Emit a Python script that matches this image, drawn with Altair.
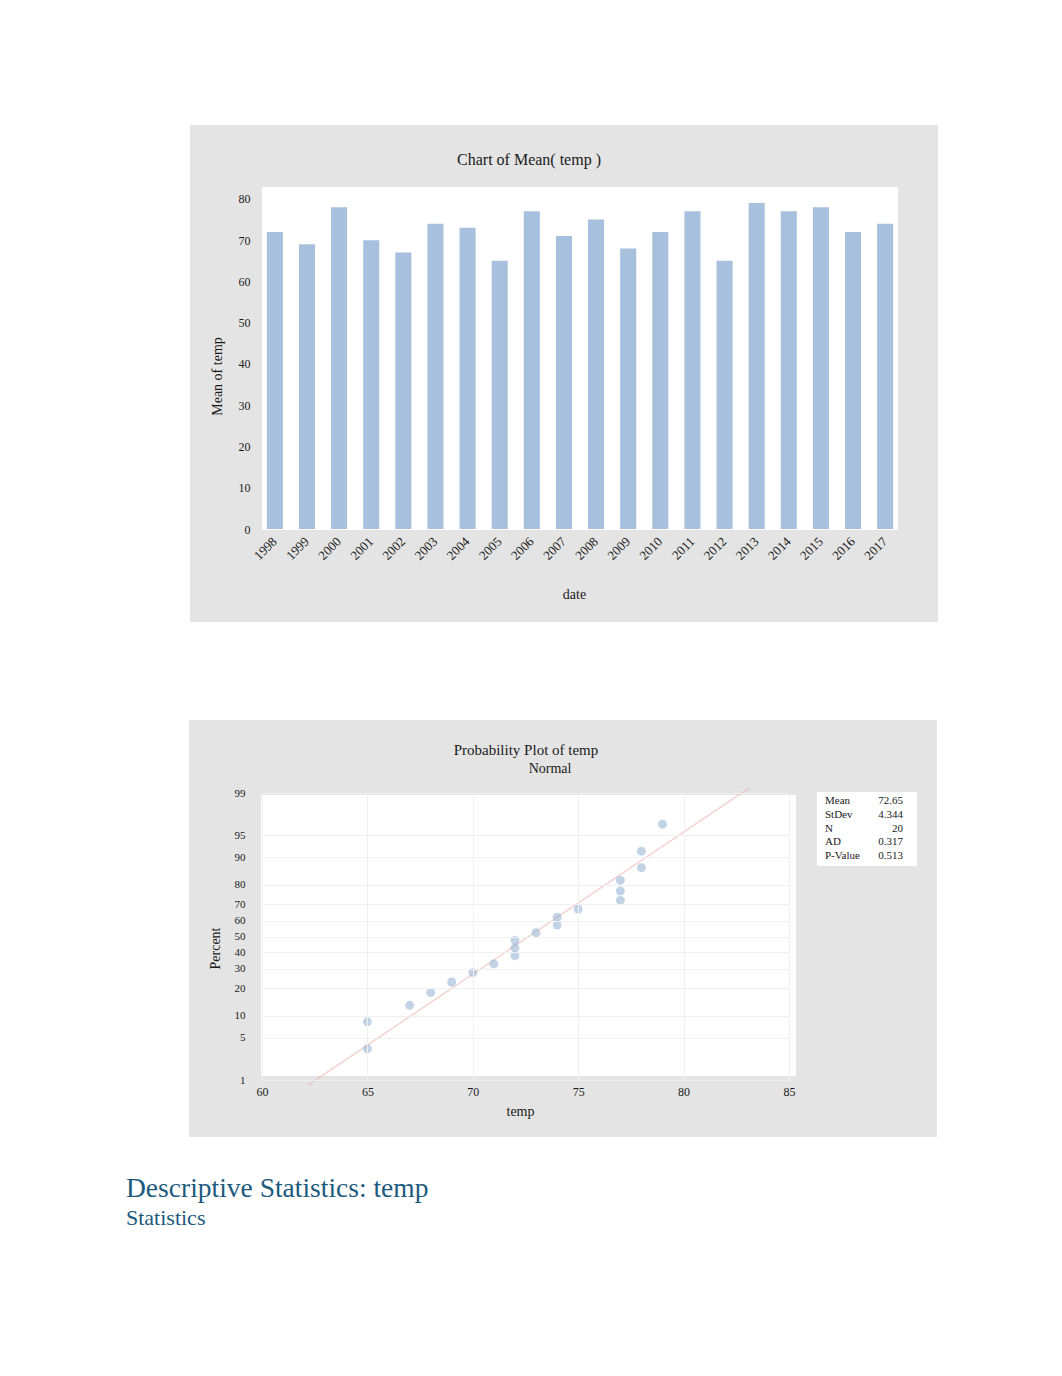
import altair as alt
import pandas as pd
from statistics import NormalDist, mean, stdev

# ---------------- data ----------------
years = [str(y) for y in range(1998, 2018)]
temps = [72, 69, 78, 70, 67, 74, 73, 65, 77, 71, 75, 68, 72, 77, 65, 79, 77, 78, 72, 74]
bar_ticks = [0, 10, 20, 30, 40, 50, 60, 70, 80]
pct_ticks = [1, 5, 10, 20, 30, 40, 50, 60, 70, 80, 90, 95, 99]
temp_ticks = [60, 65, 70, 75, 80, 85]
stat_labels = ["Mean", "StDev", "N", "AD", "P-Value"]
stat_values = ["72.65", "4.344", "20", "0.317", "0.513"]

FONT = "Liberation Serif"
TXT = "#1a1a1a"
PANEL = "#e4e4e4"

one = pd.DataFrame({"k": [0]})

def rect(x, x2, y, y2, color):
    return alt.Chart(one).mark_rect(color=color).encode(
        x=alt.value(x), x2=alt.value(x2), y=alt.value(y), y2=alt.value(y2))

def label(text, x, y, size, align="center", color=TXT):
    return alt.Chart(one).mark_text(text=text, font=FONT, fontSize=size, align=align,
                                    baseline="middle", color=color).encode(
        x=alt.value(x), y=alt.value(y))

AX = dict(labelFont=FONT, titleFont=FONT, labelColor=TXT,
          titleColor=TXT, titleFontWeight="normal", titleFontSize=14,
          ticks=False, domain=False, zindex=1, labelOverlap=False, labelFlush=False)

# ---------------- chart 1: bar chart ----------------
W1, H1 = 636, 342
bars_df = pd.DataFrame({"date": years, "temp": temps})

bars = alt.Chart(bars_df).mark_bar(color="#a7c0de").encode(
    x=alt.X("date:N", sort=years,
            scale=alt.Scale(paddingInner=0.5, paddingOuter=0.15),
            axis=alt.Axis(title="date", labelAngle=315, labelPadding=10,
                          labelFontSize=13, labelAlign="right", labelBaseline="middle",
                          titleX=312, titleY=65, titleBaseline="middle", **AX)),
    y=alt.Y("temp:Q", scale=alt.Scale(domain=[0, 82.9], nice=False),
            axis=alt.Axis(values=bar_ticks, title="Mean of temp", labelPadding=12,
                          labelFontSize=12,
                          titleX=-45, titleY=189, titleAngle=270,
                          titleAlign="center", titleBaseline="middle", grid=False, **AX)),
)

chart1 = alt.layer(
    rect(-254, 784, -179, 1173, "white"),       # page background
    rect(-72, 676, -62, 435, PANEL),           # grey panel
    rect(0, W1, 0, H1 + 1, "white"),           # plot area
    bars,
    label("Chart of Mean( temp )", 267, -27, 16),
).properties(width=W1, height=H1)

# ---------------- chart 2: probability plot ----------------
W2, H2 = 527, 287
nd = NormalDist()
z_ticks = [nd.inv_cdf(p / 100) for p in pct_ticks]
zmax = z_ticks[-1]
m, s = mean(temps), stdev(temps)

xscale = alt.Scale(domain=[60, 85], nice=False, zero=False)
yscale = alt.Scale(domain=[-zmax, zmax], nice=False, zero=False)

xaxis = alt.Axis(values=temp_ticks, title="temp", grid=True, gridColor="#f0f0f0",
                 labelFontSize=12, labelPadding=6, titleX=258, titleY=31,
                 titleBaseline="middle", **AX)
yaxis = alt.Axis(values=z_ticks, title="Percent", grid=True, gridColor="#f0f0f0",
                 labelExpr="format(cumulativeNormal(datum.value) * 100, '.0f')",
                 labelFontSize=11, labelPadding=17, titleX=-47, titleY=155, titleAngle=270,
                 titleAlign="center", titleBaseline="middle", **AX)

prob_df = pd.DataFrame({"temp": temps})
points = alt.Chart(prob_df).transform_window(
    rank="row_number()", sort=[alt.SortField("temp")]
).transform_joinaggregate(
    n="count()"
).transform_calculate(
    z="quantileNormal((datum.rank - 0.3) / (datum.n + 0.4))"
).mark_circle(size=80, color="#9ab6d6", opacity=0.6).encode(
    x=alt.X("temp:Q", scale=xscale, axis=xaxis),
    y=alt.Y("z:Q", scale=yscale, axis=yaxis),
)

fit_pct = [0.8, 99.2]
fit_df = pd.DataFrame({"temp": [m + s * nd.inv_cdf(p / 100) for p in fit_pct]})
fit = alt.Chart(fit_df).transform_calculate(
    z=f"(datum.temp - {m}) / {s}"
).mark_line(color="#eab5ae", strokeWidth=1.5, opacity=0.6).encode(
    x=alt.X("temp:Q", scale=xscale, axis=xaxis),
    y=alt.Y("z:Q", scale=yscale, axis=yaxis),
)

stats_df = pd.DataFrame({"label": stat_labels, "value": stat_values,
                         "row": list(range(len(stat_labels)))})
stats_base = alt.Chart(stats_df).transform_calculate(ypix="datum.row * 13.8 + 8")
stats_lab = stats_base.mark_text(font=FONT, fontSize=11, align="left",
                                 baseline="middle", color=TXT).encode(
    x=alt.value(563), y=alt.Y("ypix:Q", scale=None), text="label:N")
stats_val = stats_base.mark_text(font=FONT, fontSize=11, align="right",
                                 baseline="middle", color=TXT).encode(
    x=alt.value(641), y=alt.Y("ypix:Q", scale=None), text="value:N")

chart2 = alt.layer(
    rect(-73, 675, -73, 344, PANEL),           # grey panel
    rect(555, 655, -1, 73, "white"),           # stats box
    rect(-1, 534, 2, 283, "white"),            # plot area
    fit,
    points,
    stats_lab,
    stats_val,
    label("Probability Plot of temp", 264, -43, 15),
    label("Normal", 288, -24, 14),
    label("Descriptive Statistics: temp", -136, 396, 27.5, align="left", color="#1c5a7d"),
    label("Statistics", -136, 425, 22, align="left", color="#1c5a7d"),
).properties(width=W2, height=H2)

chart = alt.vconcat(chart1, chart2, spacing=264, bounds="flush").properties(
    padding=0, background="white"
).configure_view(stroke=None, fill=None)

chart.save("out.html", embed_options={"renderer": "svg", "actions": False})
